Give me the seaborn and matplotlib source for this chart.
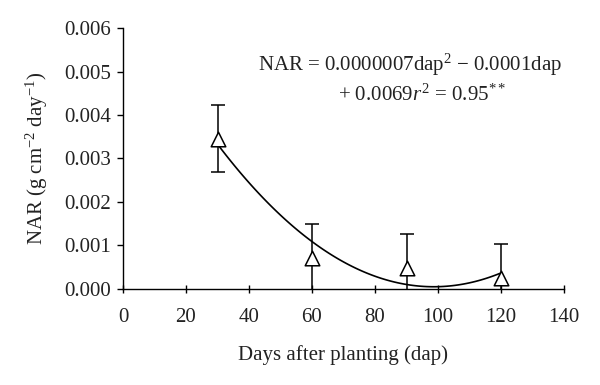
import numpy as np
import pandas as pd
import matplotlib
matplotlib.use("Agg")
import matplotlib.pyplot as plt
from matplotlib.ticker import FormatStrFormatter
import seaborn as sns

# data
days = [30, 60, 90, 120]
nar = [0.00345, 0.00071, 0.000465, 0.000235]
nar_err = [0.00077, 0.00078, 0.00080, 0.00080]

x_ticks = [0, 20, 40, 60, 80, 100, 120, 140]
y_ticks = [0.000, 0.001, 0.002, 0.003, 0.004, 0.005, 0.006]

sns.set_theme(style="ticks")
plt.rcParams["font.family"] = ["Liberation Serif", "DejaVu Serif"]
plt.rcParams["mathtext.fontset"] = "custom"
plt.rcParams["mathtext.rm"] = "Liberation Serif"
plt.rcParams["mathtext.it"] = "Liberation Serif:italic"

df = pd.DataFrame({"dap": days, "NAR": nar})

fig = plt.figure(figsize=(6, 3.85), dpi=100)
ax = fig.add_axes([0.205, 0.2506, 0.735, 0.6764])

# quadratic trend line
sns.regplot(data=df, x="dap", y="NAR", order=2, ci=None, scatter=False,
            truncate=True, color="black", line_kws={"lw": 1.2}, ax=ax)

ax.errorbar(days, nar, yerr=nar_err, fmt="none", ecolor="black",
            elinewidth=1.1, capsize=5, capthick=1.1, zorder=3)
sns.scatterplot(data=df, x="dap", y="NAR", marker="^", s=110,
                facecolor="white", edgecolor="black", linewidth=1.1,
                zorder=4, ax=ax)

fs = 15
ax.set_xlim(0, 140)
ax.set_ylim(0, 0.006)
ax.set_xticks(x_ticks)
ax.set_yticks(y_ticks)
ax.yaxis.set_major_formatter(FormatStrFormatter("%.3f"))
ax.tick_params(labelsize=fs, width=1, color="black", labelcolor="#222222")
ax.tick_params(axis="y", length=4.5, pad=4)
ax.tick_params(axis="x", direction="inout", length=6, pad=11)
for s in ["left", "bottom"]:
    ax.spines[s].set_linewidth(1)
    ax.spines[s].set_color("black")
sns.despine(ax=ax)

ax.set_xlabel("Days after planting (dap)", fontsize=fs, color="#222222", labelpad=13)
ax.set_ylabel(r"NAR (g cm$^{-2}$ day$^{-1}$)", fontsize=fs, color="#222222", labelpad=10)

ax.text(0.651, 0.858, r"NAR = 0.0000007dap$^{2}$ $-$ 0.0001dap",
        transform=ax.transAxes, ha="center", va="center", fontsize=fs, color="#222222")
ax.text(0.678, 0.743, r"+ 0.0069$\it{r}^{2}$ = 0.95$^{**}$",
        transform=ax.transAxes, ha="center", va="center", fontsize=fs, color="#222222")

fig.savefig("out.png", dpi=100)
